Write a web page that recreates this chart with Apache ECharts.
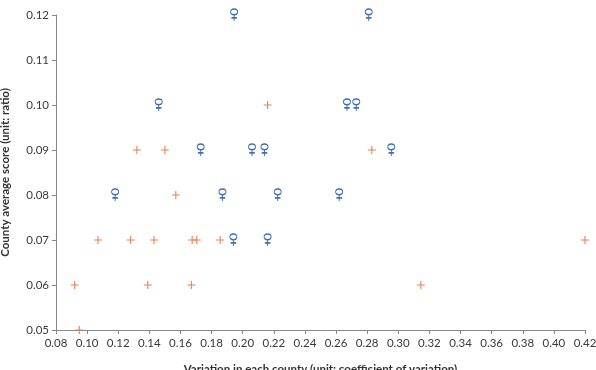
<!DOCTYPE html>
<html>
<head>
<meta charset="utf-8">
<script src="https://cdn.jsdelivr.net/npm/echarts@6/dist/echarts.min.js"></script>
<style>
html,body{margin:0;padding:0;background:#fff;}
#c{width:596px;height:370px;}
</style>
</head>
<body>
<div id="c"></div>
<script>
// Orange "+" series
const plusX = [0.092, 0.095, 0.107, 0.128, 0.132, 0.139, 0.143, 0.150, 0.157, 0.167, 0.1675, 0.1705, 0.1855, 0.216, 0.283, 0.3145, 0.42];
const plusY = [0.06, 0.05, 0.07, 0.07, 0.09, 0.06, 0.07, 0.09, 0.08, 0.06, 0.07, 0.07, 0.07, 0.10, 0.09, 0.06, 0.07];
// Blue "♀" series
const femX = [0.118, 0.146, 0.173, 0.187, 0.194, 0.1945, 0.206, 0.214, 0.216, 0.2225, 0.262, 0.267, 0.273, 0.281, 0.2955];
const femY = [0.08, 0.10, 0.09, 0.08, 0.07, 0.12, 0.09, 0.09, 0.07, 0.08, 0.08, 0.10, 0.10, 0.12, 0.09];

const xName = 'Variation in each county (unit: coefficient of variation)';
const yName = 'County average score (unit: ratio)';

const femPath = 'path://M6,1 C8.5,1 10.5,3 10.5,5.5 C10.5,8 8.5,10 6,10 C3.5,10 1.5,8 1.5,5.5 C1.5,3 3.5,1 6,1 Z M6,10 L6,20 M2.5,15 L9.5,15';
const plusPath = 'path://M0,4 L8,4 M4,0 L4,8';

const font = 'Lato';
const chart = echarts.init(document.getElementById('c'), null, {renderer: 'canvas'});
chart.setOption({
  animation: false,
  grid: {left: 56, right: 11, top: 15, bottom: 40, containLabel: false, outerBoundsMode: 'none'},
  xAxis: {
    type: 'value', min: 0.08, max: 0.42, interval: 0.02,
    name: xName, nameLocation: 'middle', nameGap: 33,
    nameTextStyle: {fontFamily: font, fontWeight: 'bold', fontSize: 11.5, color: '#333'},
    axisLine: {show: true, onZero: false, lineStyle: {color: '#888', width: 1}},
    axisTick: {show: true, length: 4, lineStyle: {color: '#888'}},
    axisLabel: {fontFamily: font, fontSize: 11.5, color: '#3a3a3a', margin: 7,
      formatter: v => v.toFixed(2)},
    splitLine: {show: false}
  },
  yAxis: {
    type: 'value', min: 0.05, max: 0.12, interval: 0.01,
    name: yName, nameLocation: 'middle', nameGap: 45,
    nameTextStyle: {fontFamily: font, fontWeight: 'bold', fontSize: 11.5, color: '#333'},
    axisLine: {show: true, onZero: false, lineStyle: {color: '#888', width: 1}},
    axisTick: {show: true, length: 4, lineStyle: {color: '#888'}},
    axisLabel: {fontFamily: font, fontSize: 11.5, color: '#3a3a3a', margin: 7,
      formatter: v => v.toFixed(2)},
    splitLine: {show: false}
  },
  series: [
    {
      type: 'scatter', clip: false,
      data: plusX.map((x, i) => [x, plusY[i]]),
      symbol: plusPath, symbolSize: 8,
      itemStyle: {color: 'transparent', borderColor: '#ef7f4e', borderWidth: 1.1, opacity: 1}
    },
    {
      type: 'scatter', clip: false,
      data: femX.map((x, i) => [x, femY[i]]),
      symbol: femPath, symbolSize: [7, 12],
      itemStyle: {color: 'transparent', borderColor: '#3f6db6', borderWidth: 1.2, opacity: 1}
    }
  ]
});
</script>
</body>
</html>
